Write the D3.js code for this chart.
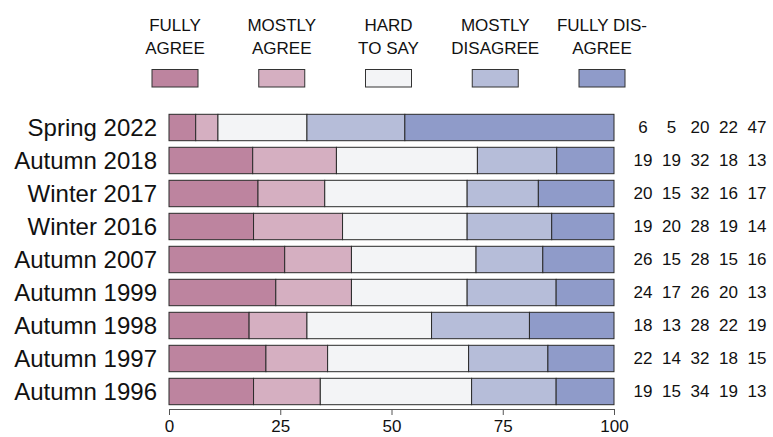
<!DOCTYPE html>
<html><head><meta charset="utf-8">
<script src="https://cdn.jsdelivr.net/npm/d3@7"></script>
<style>body{margin:0;background:#fff}svg{display:block}text{font-family:"Liberation Sans",Arial,sans-serif;fill:#111}</style>
</head><body>
<svg id="c" width="773" height="437"></svg>
<script>
const periods = ["Spring 2022","Autumn 2018","Winter 2017","Winter 2016","Autumn 2007","Autumn 1999","Autumn 1998","Autumn 1997","Autumn 1996"];
const fullyAgree    = [6,19,20,19,26,24,18,22,19];
const mostlyAgree   = [5,19,15,20,15,17,13,14,15];
const hardToSay     = [20,32,32,28,28,26,28,32,34];
const mostlyDisagree= [22,18,16,19,15,20,22,18,19];
const fullyDisagree = [47,13,17,14,16,13,19,15,13];
const legendLabels = [["FULLY","AGREE"],["MOSTLY","AGREE"],["HARD","TO SAY"],["MOSTLY","DISAGREE"],["FULLY DIS-","AGREE"]];
const colors = ["#bd849f","#d5afc1","#f3f4f6","#b6bdd9","#8f9bc9"];
const xTicks = [0,25,50,75,100];

const series = [fullyAgree, mostlyAgree, hardToSay, mostlyDisagree, fullyDisagree];
const rows = periods.map((p,i)=>{
  const vals = series.map(s=>s[i]);
  const tot = d3.sum(vals);
  let c = 0;
  const segs = vals.map((v,k)=>{const s={k,x0:c/tot*100,x1:(c+v)/tot*100}; c+=v; return s;});
  return {p, vals, segs};
});

const svg = d3.select("#c");
const x = d3.scaleLinear().domain([0,100]).range([169,614]);
const y = d3.scaleBand().domain(periods).range([111,408]).paddingInner(0.2).paddingOuter(0.1);

// legend
const lx = d3.scalePoint().domain(d3.range(5)).range([175,602]);
const lg = svg.append("g");
legendLabels.forEach((lab,i)=>{
  const t = lg.append("text").attr("text-anchor","middle").attr("font-size",17);
  t.append("tspan").attr("x",lx(i)).attr("y",31).text(lab[0]);
  t.append("tspan").attr("x",lx(i)).attr("y",54).text(lab[1]);
  lg.append("rect").attr("x",lx(i)-23).attr("y",69.5).attr("width",46).attr("height",17.5)
    .attr("fill",colors[i]).attr("stroke","#333").attr("stroke-width",1);
});

// bars
const rg = svg.append("g").selectAll("g").data(rows).join("g");
rg.selectAll("rect").data(d=>d.segs.map(s=>({...s,p:d.p}))).join("rect")
  .attr("x",d=>x(d.x0)).attr("width",d=>x(d.x1)-x(d.x0))
  .attr("y",d=>y(d.p)).attr("height",y.bandwidth())
  .attr("fill",d=>colors[d.k]).attr("stroke","#2a2a2a").attr("stroke-width",1);

// category labels
rg.append("text").attr("x",157).attr("y",d=>y(d.p)+y.bandwidth()/2).attr("dy","0.36em")
  .attr("text-anchor","end").attr("font-size",24).text(d=>d.p);

// numbers
const nx = d3.scaleLinear().domain([0,4]).range([643,757]);
rg.each(function(d){
  d3.select(this).selectAll("text.n").data(d.vals).join("text").attr("class","n")
    .attr("x",(v,k)=>nx(k)).attr("y",y(d.p)+y.bandwidth()/2).attr("dy","0.33em")
    .attr("text-anchor","middle").attr("font-size",17).text(v=>v);
});

// axis
const ax = svg.append("g").attr("transform","translate(0,409)")
  .call(d3.axisBottom(x).tickValues(xTicks).tickSize(6).tickSizeOuter(6).tickPadding(5));
ax.select(".domain").attr("stroke","#555");
ax.selectAll(".tick line").attr("stroke","#555");
ax.selectAll(".tick text").attr("font-size",17).attr("font-family","Liberation Sans, Arial, sans-serif").attr("fill","#111");
</script>
</body></html>
